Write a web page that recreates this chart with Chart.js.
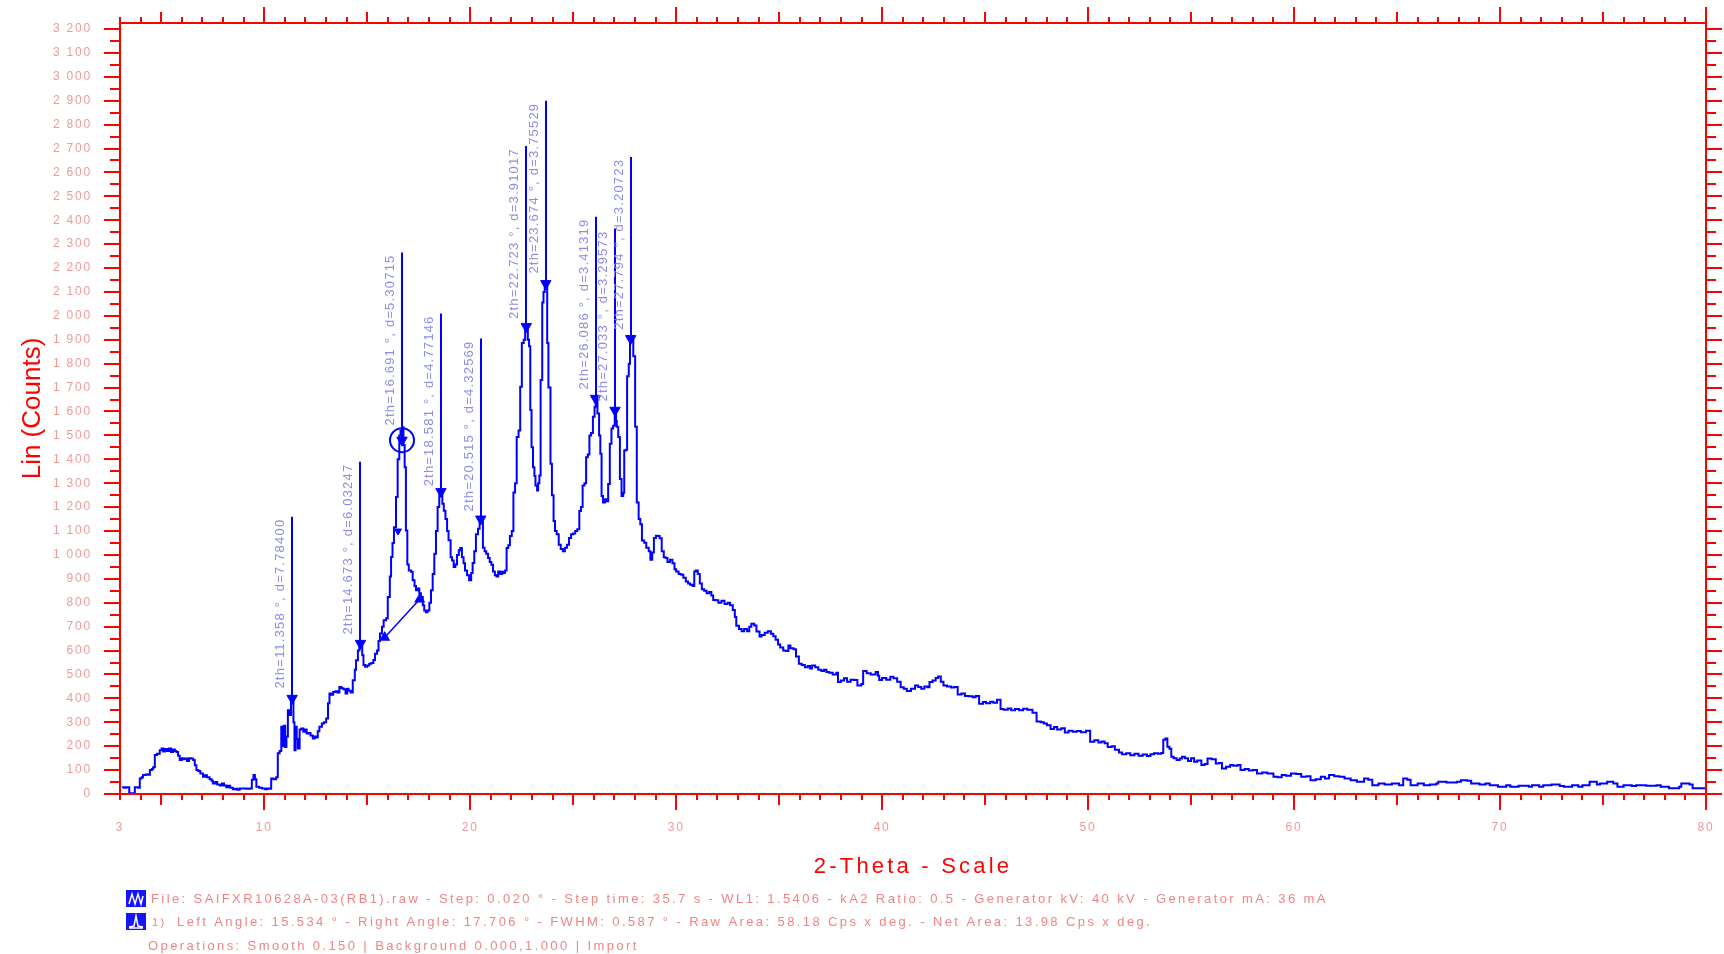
<!DOCTYPE html>
<html><head><meta charset="utf-8">
<script src="https://cdn.jsdelivr.net/npm/chart.js@4.4.1/dist/chart.umd.min.js"></script>
<style>html,body{margin:0;padding:0;background:#fff;overflow:hidden}canvas{display:block}</style>
</head><body>
<canvas id="c" width="1724" height="954"></canvas>
<script>
// ---- data ----
const angles = [3.10,3.20,3.30,3.45,3.60,3.72,3.88,3.96,4.05,4.12,4.25,4.36,4.45,4.55,4.61,4.69,4.80,4.93,5.02,5.10,5.18,5.28,5.38,5.48,5.58,5.66,5.74,5.82,5.90,6.00,6.06,6.14,6.25,6.35,6.45,6.55,6.63,6.71,6.80,6.90,7.03,7.12,7.22,7.35,7.45,7.51,7.62,7.72,7.85,7.95,8.05,8.16,8.25,8.35,8.48,8.60,8.70,8.81,9.00,9.15,9.29,9.40,9.48,9.55,9.62,9.75,9.90,10.05,10.15,10.26,10.34,10.45,10.58,10.66,10.75,10.83,10.88,10.95,11.02,11.08,11.15,11.22,11.30,11.36,11.42,11.47,11.52,11.58,11.63,11.72,11.80,11.90,11.98,12.06,12.15,12.25,12.36,12.45,12.52,12.60,12.68,12.80,12.90,13.01,13.10,13.17,13.25,13.35,13.45,13.55,13.65,13.75,13.85,13.95,14.03,14.10,14.20,14.30,14.40,14.46,14.55,14.62,14.70,14.76,14.82,14.90,15.00,15.10,15.20,15.30,15.38,15.48,15.55,15.62,15.72,15.80,15.92,16.00,16.10,16.16,16.23,16.30,16.40,16.48,16.56,16.62,16.70,16.76,16.82,16.88,16.95,17.02,17.13,17.21,17.30,17.37,17.45,17.53,17.61,17.70,17.77,17.85,17.93,18.02,18.10,18.18,18.26,18.34,18.42,18.50,18.57,18.65,18.72,18.80,18.88,18.95,19.05,19.12,19.20,19.28,19.36,19.45,19.52,19.60,19.68,19.75,19.85,19.95,20.05,20.12,20.20,20.28,20.38,20.46,20.54,20.62,20.70,20.78,20.87,20.95,21.03,21.11,21.20,21.28,21.36,21.45,21.55,21.62,21.69,21.77,21.85,21.93,22.02,22.10,22.18,22.26,22.35,22.43,22.51,22.60,22.67,22.74,22.80,22.86,22.92,22.98,23.05,23.12,23.17,23.25,23.30,23.36,23.42,23.50,23.56,23.62,23.68,23.74,23.80,23.90,23.97,24.05,24.12,24.20,24.30,24.40,24.50,24.60,24.70,24.80,24.90,25.00,25.10,25.20,25.30,25.38,25.46,25.55,25.63,25.71,25.79,25.87,25.96,26.04,26.10,26.18,26.26,26.32,26.38,26.45,26.55,26.62,26.70,26.78,26.86,26.94,27.02,27.08,27.12,27.19,27.27,27.35,27.43,27.48,27.55,27.62,27.70,27.76,27.84,27.92,28.01,28.09,28.18,28.26,28.34,28.45,28.55,28.67,28.75,28.84,28.92,29.02,29.10,29.20,29.30,29.40,29.49,29.58,29.70,29.82,29.92,30.00,30.12,30.25,30.35,30.47,30.58,30.68,30.80,30.88,30.96,31.05,31.15,31.25,31.36,31.48,31.60,31.71,31.80,31.90,32.05,32.20,32.35,32.50,32.62,32.75,32.85,32.92,33.05,33.18,33.30,33.44,33.55,33.65,33.79,33.90,34.05,34.15,34.30,34.45,34.60,34.72,34.83,34.95,35.05,35.20,35.32,35.45,35.55,35.70,35.82,35.96,36.10,36.25,36.39,36.50,36.60,36.75,36.90,37.05,37.18,37.30,37.43,37.60,37.78,37.86,38.00,38.15,38.30,38.47,38.64,38.80,38.99,39.08,39.25,39.45,39.69,39.80,39.86,40.00,40.20,40.40,40.55,40.73,40.90,41.05,41.20,41.40,41.60,41.75,41.90,42.05,42.20,42.30,42.45,42.60,42.72,42.85,42.98,43.15,43.35,43.50,43.67,43.85,44.02,44.20,44.40,44.54,44.71,44.90,45.05,45.25,45.40,45.58,45.75,45.90,46.10,46.27,46.45,46.65,46.85,47.05,47.30,47.50,47.70,47.85,48.00,48.18,48.35,48.50,48.70,48.87,49.05,49.25,49.45,49.65,49.90,50.10,50.30,50.50,50.65,50.80,50.95,51.15,51.30,51.50,51.65,51.85,52.05,52.25,52.45,52.65,52.86,53.03,53.20,53.40,53.55,53.65,53.75,53.85,53.95,54.04,54.15,54.30,54.45,54.56,54.70,54.85,55.00,55.15,55.30,55.50,55.65,55.80,56.00,56.20,56.35,56.50,56.70,56.90,57.05,57.25,57.40,57.60,57.80,58.00,58.20,58.45,58.70,59.00,59.20,59.40,59.60,59.85,60.10,60.35,60.60,60.80,61.05,61.30,61.50,61.70,61.95,62.20,62.45,62.75,63.05,63.40,63.60,63.80,64.10,64.40,64.75,65.10,65.30,65.50,65.66,66.00,66.30,66.60,66.90,67.00,67.40,67.90,68.10,68.40,68.60,69.00,69.30,69.50,69.90,70.30,70.50,70.90,71.40,71.55,71.90,72.10,72.50,72.90,73.10,73.50,73.80,74.00,74.35,74.70,74.85,75.20,75.50,75.70,76.00,76.40,76.60,77.10,77.60,77.80,78.20,78.70,78.80,79.20,79.35,79.80,80.00];
const counts = [28,26,28,3,3,28,26,65,70,79,82,80,100,105,112,163,168,183,190,178,188,180,190,176,186,180,176,160,142,150,145,149,138,150,149,142,120,100,96,86,72,78,70,62,55,44,50,40,36,44,36,28,34,26,20,22,18,23,23,22,23,60,79,62,30,26,23,20,23,22,65,62,70,170,180,281,200,285,197,240,350,330,400,407,300,183,281,230,190,270,274,260,270,253,255,245,232,240,236,262,281,295,300,316,380,420,415,427,430,425,448,442,438,420,440,432,425,476,520,559,600,629,625,580,540,532,538,545,548,560,587,600,640,671,700,727,735,824,910,991,1050,1116,1242,1400,1500,1520,1534,1460,1367,1102,960,935,930,894,870,852,860,840,824,790,768,760,768,800,852,920,1005,1100,1200,1250,1270,1214,1185,1150,1100,1061,990,977,949,960,1000,1020,1029,990,965,935,915,894,924,966,1015,1086,1110,1150,1140,1030,1015,1005,987,970,959,931,915,910,931,920,930,924,935,1029,1040,1079,1100,1261,1300,1493,1520,1704,1887,1900,1940,1955,1900,1873,1606,1450,1367,1330,1290,1270,1300,1332,1732,2056,2100,2135,2130,1887,1700,1381,1250,1142,1100,1086,1043,1025,1015,1030,1043,1071,1086,1090,1100,1107,1184,1200,1290,1300,1409,1420,1500,1510,1578,1620,1650,1592,1500,1423,1247,1219,1233,1225,1297,1465,1529,1540,1600,1560,1536,1493,1318,1247,1260,1437,1440,1747,1800,1895,1905,1831,1536,1219,1150,1128,1060,1051,1030,1015,980,1010,1071,1080,1079,1070,1015,990,987,970,980,965,940,931,920,917,905,889,880,875,870,931,935,920,880,856,850,840,845,830,812,810,800,808,795,800,790,770,740,704,690,681,690,681,700,712,705,680,659,665,675,681,670,660,645,625,613,600,598,621,610,605,575,545,540,530,535,525,537,530,520,515,520,510,507,500,507,469,475,484,470,478,477,454,460,515,505,500,510,495,477,485,478,490,484,470,446,440,431,440,454,448,440,450,446,469,475,485,492,470,454,450,445,448,416,420,410,409,405,410,378,385,380,386,382,394,356,352,358,350,356,350,357,352,340,303,300,295,288,272,280,270,275,257,265,260,264,258,265,219,225,215,220,212,197,200,185,174,166,170,162,168,160,165,159,166,170,168,172,227,232,198,189,156,150,142,148,156,150,138,150,135,140,121,125,149,145,128,130,107,114,121,118,121,100,105,98,100,86,90,86,72,70,79,76,86,84,72,74,58,62,72,65,79,74,72,65,58,51,65,60,37,44,40,44,37,65,60,37,44,37,40,44,51,48,51,58,55,44,40,44,37,30,37,30,35,30,37,30,37,40,33,30,37,30,37,51,40,44,51,44,30,37,33,37,35,37,30,24,30,44,40,24,24,22];

const peakAngles = [11.358,14.673,16.691,18.581,20.515,22.723,23.674,26.086,27.033,27.794];
const peakCounts = [400,630,1480,1265,1150,1955,2135,1655,1605,1905];
const peakTops   = [1160,1390,2265,2010,1905,2710,2900,2415,2365,2665];
const peakLabels = ["2th=11.358 °, d=7.78400","2th=14.673 °, d=6.03247","2th=16.691 °, d=5.30715","2th=18.581 °, d=4.77146","2th=20.515 °, d=4.32569","2th=22.723 °, d=3.91017","2th=23.674 °, d=3.75529","2th=26.086 °, d=3.41319","2th=27.033 °, d=3.29573","2th=27.794 °, d=3.20723"];

const circleAngles = [16.691];
const circleCounts = [1480];
const bgAngles = [15.85, 17.55];
const bgCounts = [655, 815];
const innerMarkAngles = [16.5];
const innerMarkCounts = [1100];

const xTickValues = [3,10,20,30,40,50,60,70,80];
const yTickValues = [0,100,200,300,400,500,600,700,800,900,1000,1100,1200,1300,1400,1500,1600,1700,1800,1900,2000,2100,2200,2300,2400,2500,2600,2700,2800,2900,3000,3100,3200];

const xTitle = "2-Theta - Scale";
const yTitle = "Lin (Counts)";
const footer1 = "File: SAIFXR10628A-03(RB1).raw - Step: 0.020 ° - Step time: 35.7 s - WL1: 1.5406 - kA2 Ratio: 0.5 - Generator kV: 40 kV - Generator mA: 36 mA";
const footer2a = "1)";
const footer2b = "Left Angle: 15.534 ° - Right Angle: 17.706 ° - FWHM: 0.587 ° - Raw Area: 58.18 Cps x deg. - Net Area: 13.98 Cps x deg.";
const footer3 = "Operations: Smooth 0.150 | Background 0.000,1.000 | Import";

// ---- styling ----
const RED = '#ff0000';
const BLUE = '#0000ff';
const TICK_TXT = '#ee9a9a';
const FOOT_TXT = '#f08484';
const LABEL_TXT = '#8c8ce8';
const FONT = "'Liberation Sans', Arial, sans-serif";

function fmtY(v){ return v >= 1000 ? Math.floor(v/1000) + ' ' + String(v%1000).padStart(3,'0') : String(v); }

const decor = {
  id: 'decor',
  beforeDraw(chart){ chart.ctx.letterSpacing = '1.8px'; },
  afterDatasetsDraw(chart){
    const ctx = chart.ctx, xs = chart.scales.x, ys = chart.scales.y;
    ctx.save();
    ctx.strokeStyle = BLUE; ctx.lineWidth = 2;
    for (let i=0;i<peakAngles.length;i++){
      const px = Math.round(xs.getPixelForValue(peakAngles[i]));
      const y0 = ys.getPixelForValue(peakCounts[i]);
      const y1 = ys.getPixelForValue(peakTops[i]);
      ctx.beginPath(); ctx.moveTo(px, y0); ctx.lineTo(px, y1); ctx.stroke();
      ctx.save();
      ctx.translate(px - 8, y1 + 2);
      ctx.rotate(-Math.PI/2);
      ctx.letterSpacing = '1.2px';
      ctx.font = '13px ' + FONT;
      ctx.fillStyle = LABEL_TXT;
      ctx.textAlign = 'right';
      ctx.textBaseline = 'alphabetic';
      ctx.fillText(peakLabels[i], 0, 0);
      ctx.restore();
    }
    ctx.restore();
  },
  afterDraw(chart){
    const ctx = chart.ctx, xs = chart.scales.x, ys = chart.scales.y, a = chart.chartArea;
    ctx.save();
    ctx.letterSpacing = '0px';
    ctx.strokeStyle = RED; ctx.lineWidth = 2;
    ctx.strokeRect(a.left, a.top, a.right - a.left, a.bottom - a.top);
    ctx.beginPath();
    for (let v = 3; v <= 80; v++){
      const len = v % 10 === 0 ? 16 : (v % 5 === 0 ? 11 : 6);
      const px = Math.round(xs.getPixelForValue(v));
      ctx.moveTo(px, a.bottom); ctx.lineTo(px, a.bottom + len);
      ctx.moveTo(px, a.top); ctx.lineTo(px, a.top - len);
    }
    for (let v = 0; v <= 3200; v += 50){
      const len = v % 100 === 0 ? 16 : 10;
      const py = Math.round(ys.getPixelForValue(v));
      ctx.moveTo(a.left - len, py); ctx.lineTo(a.left, py);
      ctx.moveTo(a.right, py); ctx.lineTo(a.right + len, py);
    }
    ctx.stroke();

    // axis titles
    ctx.fillStyle = RED;
    ctx.textAlign = 'center'; ctx.textBaseline = 'middle';
    ctx.font = '22px ' + FONT;
    ctx.letterSpacing = '3.2px';
    ctx.fillText(xTitle, (a.left + a.right)/2, 867);
    ctx.save();
    ctx.translate(33, (a.top + a.bottom)/2);
    ctx.rotate(-Math.PI/2);
    ctx.letterSpacing = '0px';
    ctx.font = '26px ' + FONT;
    ctx.fillText(yTitle, 0, 0);
    ctx.restore();

    // footer icons
    function icon(x, y, kind){
      ctx.save();
      ctx.fillStyle = '#1414ff';
      ctx.fillRect(x, y, 20, 17);
      ctx.strokeStyle = '#ffffff'; ctx.lineWidth = 1.5;
      ctx.beginPath();
      if (kind === 1){
        ctx.moveTo(x+3, y+14); ctx.lineTo(x+6, y+4); ctx.lineTo(x+9, y+14); ctx.lineTo(x+12, y+4); ctx.lineTo(x+15, y+14); ctx.lineTo(x+17, y+6);
      } else {
        ctx.moveTo(x+3, y+14); ctx.lineTo(x+8, y+13); ctx.lineTo(x+10, y+3); ctx.lineTo(x+12, y+13); ctx.lineTo(x+17, y+14);
        ctx.moveTo(x+3, y+15); ctx.lineTo(x+17, y+15);
      }
      ctx.stroke();
      ctx.restore();
    }
    icon(126, 890, 1);
    icon(126, 913, 2);

    ctx.fillStyle = FOOT_TXT;
    ctx.textAlign = 'left'; ctx.textBaseline = 'middle';
    ctx.font = '13px ' + FONT;
    ctx.letterSpacing = '2.4px';
    ctx.fillText(footer1, 151, 899);
    ctx.font = '11px ' + FONT;
    ctx.fillText(footer2a, 152, 923);
    ctx.font = '13px ' + FONT;
    ctx.fillText(footer2b, 177, 922);
    ctx.fillText(footer3, 148, 946);
    ctx.restore();
  }
};

const traceData = angles.map((v, i) => ({x: v, y: counts[i]}));
const peakData = peakAngles.map((v, i) => ({x: v, y: peakCounts[i]}));
const circleData = circleAngles.map((v, i) => ({x: v, y: circleCounts[i]}));
const bgData = bgAngles.map((v, i) => ({x: v, y: bgCounts[i]}));
const innerData = innerMarkAngles.map((v, i) => ({x: v, y: innerMarkCounts[i]}));

new Chart(document.getElementById('c'), {
  type: 'line',
  data: {
    datasets: [
      { data: traceData, borderColor: BLUE, borderWidth: 2, pointRadius: 0, stepped: true, fill: false },
      { data: bgData, borderColor: BLUE, borderWidth: 1.5, pointStyle: 'triangle', pointRadius: 5, pointBackgroundColor: BLUE, pointBorderColor: BLUE },
      { data: peakData, showLine: false, pointStyle: 'triangle', rotation: 180, pointRadius: 6, pointBackgroundColor: BLUE, pointBorderColor: BLUE, pointBorderWidth: 1 },
      { data: circleData, showLine: false, pointStyle: 'circle', pointRadius: 12, pointBackgroundColor: 'rgba(0,0,0,0)', pointBorderColor: BLUE, pointBorderWidth: 2 },
      { data: innerData, showLine: false, pointStyle: 'triangle', rotation: 180, pointRadius: 4, pointBackgroundColor: BLUE, pointBorderColor: BLUE }
    ]
  },
  options: {
    responsive: false,
    animation: false,
    devicePixelRatio: 1,
    events: [],
    layout: { padding: { top: 23, right: 18, left: 0, bottom: 0 } },
    plugins: { legend: { display: false }, tooltip: { enabled: false } },
    scales: {
      x: {
        type: 'linear', min: 3, max: 80,
        afterBuildTicks: s => { s.ticks = xTickValues.map(v => ({ value: v })); },
        afterFit: s => { s.height = 160; s.paddingLeft = 0; s.paddingRight = 0; },
        grid: { display: false, drawTicks: false },
        border: { display: false },
        ticks: { autoSkip: false, maxRotation: 0, padding: 26, color: TICK_TXT, font: { family: FONT, size: 12 } }
      },
      y: {
        type: 'linear', min: 0, max: 3225,
        afterBuildTicks: s => { s.ticks = yTickValues.map(v => ({ value: v })); },
        afterFit: s => { s.width = 120; s.paddingTop = 0; s.paddingBottom = 0; },
        grid: { display: false, drawTicks: false },
        border: { display: false },
        ticks: { padding: 28, color: TICK_TXT, font: { family: FONT, size: 12 }, callback: v => fmtY(v) }
      }
    }
  },
  plugins: [decor]
});
</script>
</body></html>
